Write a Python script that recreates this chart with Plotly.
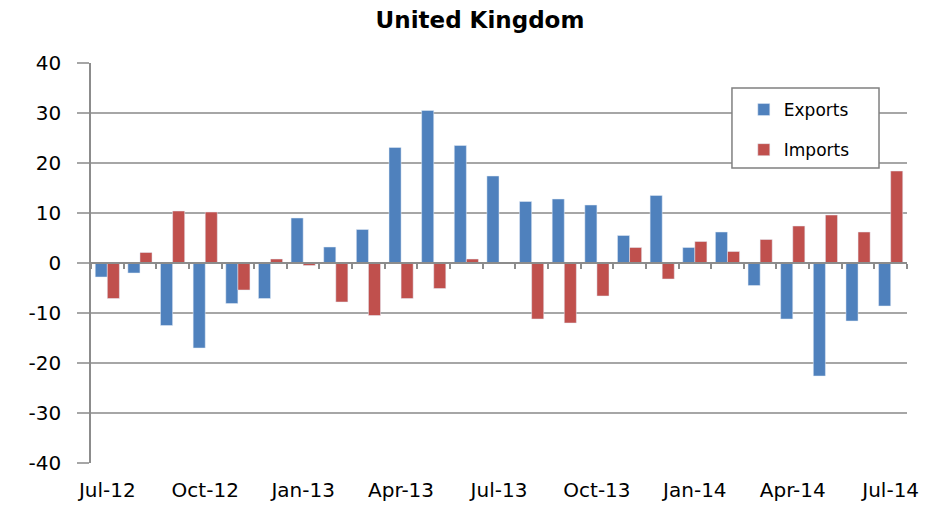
import plotly.graph_objects as go

months = ["Jul-12","Aug-12","Sep-12","Oct-12","Nov-12","Dec-12","Jan-13","Feb-13","Mar-13",
          "Apr-13","May-13","Jun-13","Jul-13","Aug-13","Sep-13","Oct-13","Nov-13","Dec-13",
          "Jan-14","Feb-14","Mar-14","Apr-14","May-14","Jun-14","Jul-14"]
exports = [-2.8,-2.0,-12.5,-17.0,-8.1,-7.1,9.0,3.2,6.7,23.1,30.5,23.5,17.4,12.3,12.8,11.6,
           5.5,13.5,3.1,6.2,-4.5,-11.2,-22.6,-11.6,-8.6]
imports = [-7.1,2.1,10.4,10.2,-5.4,0.8,-0.5,-7.8,-10.5,-7.1,-5.1,0.8,-0.1,-11.2,-12.0,-6.6,
           3.1,-3.2,4.3,2.3,4.7,7.4,9.6,6.2,18.4]
tick_labels = ["Jul-12","Oct-12","Jan-13","Apr-13","Jul-13","Oct-13","Jan-14","Apr-14","Jul-14"]
y_ticks = [-40, -30, -20, -10, 0, 10, 20, 30, 40]

x = list(range(len(months)))
tick_pos = [months.index(t) for t in tick_labels]
bounds = [i - 0.5 for i in range(len(months) + 1)]

GRID = "#A6A6A6"
AXIS = "#8C8C8C"

fig = go.Figure()
fig.add_trace(go.Bar(x=x, y=exports, name="Exports", marker_color="#4F81BD",
                     legendgroup="a", hovertext=months))
fig.add_trace(go.Bar(x=x, y=imports, name="Imports", marker_color="#C0504D",
                     legendgroup="b", hovertext=months))
fig.add_trace(go.Scatter(x=[0], y=[0], xaxis="x2", mode="markers",
                         marker=dict(opacity=0), showlegend=False, hoverinfo="skip"))

# legend frame
fig.add_shape(type="rect", xref="paper", yref="paper",
              x0=0.7855, x1=0.9657, y0=0.7375, y1=0.9375,
              line=dict(color="#808080", width=1.5), fillcolor="white", layer="above")

fig.update_layout(
    width=938, height=497,
    margin=dict(l=83, r=39, t=55, b=42, pad=0),
    paper_bgcolor="white", plot_bgcolor="white",
    barmode="group", bargap=0.26, bargroupgap=0,
    font=dict(family="DejaVu Sans", size=18, color="black"),
    title=dict(text="<b>United Kingdom</b>", x=472/938, xanchor="center",
               y=1 - 4/497, yanchor="top", pad=dict(t=0, b=0),
               font=dict(family="DejaVu Sans", size=23, color="black")),
    xaxis=dict(range=[-0.5, len(months)-0.5], tickvals=tick_pos, ticktext=tick_labels,
               ticks="", showgrid=False, zeroline=False, showline=False,
               tickfont=dict(size=20), ticklabelstandoff=13, automargin=False),
    xaxis2=dict(overlaying="x", anchor="free", position=0.5,
                range=[-0.5, len(months)-0.5], tickvals=bounds, ticks="outside",
                ticklen=5, tickcolor=AXIS, tickwidth=1.5, showticklabels=False,
                showgrid=False, zeroline=False, showline=True, linecolor=AXIS,
                linewidth=1.5, automargin=False),
    yaxis=dict(range=[-40, 40], tickvals=y_ticks, ticktext=[str(v) for v in y_ticks],
               showgrid=True, gridcolor=GRID, gridwidth=1.5,
               zeroline=False, showline=True, linecolor=AXIS, linewidth=1.5,
               ticks="outside", ticklen=12, tickcolor=GRID, tickwidth=1.5,
               tickfont=dict(size=20), ticklabelstandoff=12, automargin=False),
    legend=dict(x=0.80, y=0.9275, xanchor="left", yanchor="top",
                borderwidth=0, bgcolor="rgba(0,0,0,0)",
                font=dict(size=17), tracegroupgap=15, itemwidth=30),
    showlegend=True,
)

fig.write_html("out.html")
